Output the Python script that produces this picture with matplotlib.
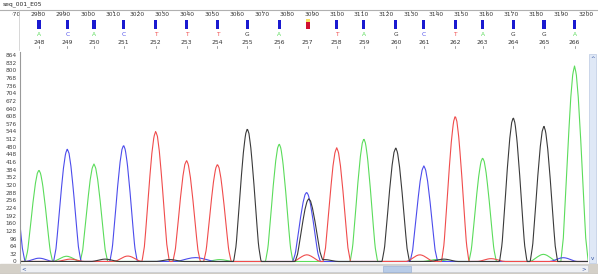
import matplotlib.pyplot as plt
import numpy as np
from matplotlib.patches import Rectangle

# peak centres (scan units) and heights, per channel
a_pos = [2980.4, 2991.5, 3002.5, 3053.0, 3076.9, 3110.9, 3140.0, 3158.6, 3183.0, 3195.5]
a_hgt = [383, 22, 408, 8, 493, 514, 8, 434, 30, 818]
c_pos = [2969.3, 2980.5, 2991.8, 3014.4, 3041.0, 3045.5, 3087.9, 3135.0, 3191.0]
c_hgt = [420, 14, 471, 487, 12, 12, 290, 400, 16]
g_pos = [3007.0, 3033.0, 3064.1, 3088.8, 3095.0, 3123.7, 3143.0, 3170.9, 3183.2]
g_hgt = [10, 8, 556, 263, 8, 476, 10, 603, 567]
t_pos = [2993.0, 3016.1, 3027.3, 3039.7, 3052.1, 3088.0, 3100.0, 3133.4, 3147.6, 3162.0]
t_hgt = [10, 23, 545, 423, 407, 28, 476, 28, 609, 12]

# base calls
call_pos = [2980.4, 2991.8, 3002.5, 3014.4, 3027.3, 3039.7, 3052.1, 3064.1, 3076.9, 3088.3,
            3100.0, 3110.9, 3123.7, 3135.0, 3147.6, 3158.6, 3170.9, 3183.2, 3195.5]
call_base = list("ACACTTTGA") + [""] + list("TAGCTAGGA")
call_num = list(range(248, 267))

ruler_ticks = list(range(2970, 3210, 10))
y_ticks = list(range(0, 865, 32))

# peak outline (offset in scans, fraction of height)
shape_off = [-5.5, -4.5, -3.5, -2.5, -1.5, -0.7, 0, 0.7, 1.5, 2.5, 3.5, 4.5, 5.5]
shape_frac = [0, 0.12, 0.36, 0.62, 0.84, 0.96, 1, 0.96, 0.84, 0.62, 0.36, 0.12, 0]

colors = {"A": "#5bdc5b", "C": "#4c4cec", "G": "#3a3a3a", "T": "#f04c4c"}

W, H = 598, 274
fig = plt.figure(figsize=(W / 100, H / 100), dpi=100)
fig.patch.set_facecolor("white")


def box(x0, y0, x1, y1):
    return [x0 / W, 1 - y1 / H, (x1 - x0) / W, (y1 - y0) / H]


xl = 2972.8
px_per_scan = 2.49

# main trace panel
ax = fig.add_axes(box(20, 52, 588, 264))
grid = np.arange(2960, 3210, 0.25)
for base, pos, hgt in [("A", a_pos, a_hgt), ("C", c_pos, c_hgt),
                       ("T", t_pos, t_hgt), ("G", g_pos, g_hgt)]:
    trace = np.zeros_like(grid)
    for p, h in zip(pos, hgt):
        trace += h * np.interp(grid - p, shape_off, shape_frac)
    ax.plot(grid, trace, color=colors[base], lw=0.8)
ax.set_xlim(xl, xl + 568 / px_per_scan)
ax.set_ylim(-10.5, 876.6)
ax.set_yticks(y_ticks)
ax.set_yticklabels([str(v) for v in y_ticks], fontsize=4.2, color="#444444")
ax.tick_params(axis="y", length=0, pad=2.5)
ax.set_xticks([])
for s in ["top", "right", "bottom"]:
    ax.spines[s].set_visible(False)
ax.spines["left"].set_color("#9a9a9a")
ax.spines["left"].set_linewidth(0.8)

# ruler with base calls
rx = fig.add_axes(box(19, 10, 595, 50))
rx.set_xlim(xl - 1 / px_per_scan, xl + 575 / px_per_scan)
rx.set_ylim(40, 0)
rx.axis("off")
for t in ruler_ticks:
    rx.text(t, 5, str(t), fontsize=4.3, ha="center", va="center", color="#333333")
    rx.plot([t, t], [0, 1.5], color="#777777", lw=0.5)
for p, b, n in zip(call_pos, call_base, call_num):
    if b:
        rx.bar(p, 9, bottom=10, width=1.3, color="#1a1ad0")
        rx.text(p, 25, b, fontsize=4.2, ha="center", va="center", color=colors[b])
    else:
        rx.bar(p, 7, bottom=12, width=1.6, color="#d01030")
        rx.bar(p, 3, bottom=9, width=1.6, color="#f8e060")
    rx.text(p, 33, str(n), fontsize=4.3, ha="center", va="center", color="#333333")
    rx.plot([p, p], [36, 38], color="#777777", lw=0.5)

# window chrome: title, borders, scroll bars
ov = fig.add_axes([0, 0, 1, 1])
ov.set_xlim(0, W)
ov.set_ylim(H, 0)
ov.axis("off")
ov.add_patch(Rectangle((0, 10), 11, 10, color="white"))  # cuts the first ruler label
ov.text(3, 4.5, "seq_001_E05", fontsize=4.3, va="center", color="#222222")
ov.plot([0, W], [9.5, 9.5], color="#b0b0b0", lw=0.8)
ov.plot([19, 19], [10, 50], color="#c8c8c8", lw=0.5)
ov.add_patch(Rectangle((0, 264), W, 10, color="#d4d0c8"))
ov.add_patch(Rectangle((20, 265), 568, 7, color="#eef0f4", ec="#c0c4cc", lw=0.4))
ov.add_patch(Rectangle((383, 265.5), 28, 6, color="#b8cce8", ec="#8ea8d0", lw=0.4))
ov.text(24, 268.5, "<", fontsize=4, ha="center", va="center", color="#3050a0")
ov.text(584, 268.5, ">", fontsize=4, ha="center", va="center", color="#3050a0")
ov.add_patch(Rectangle((589, 54), 7, 209, color="#dfe8f6", ec="#b0c0dc", lw=0.4))
ov.text(592.5, 58, "^", fontsize=4, ha="center", va="center", color="#3050a0")
ov.text(592.5, 259, "v", fontsize=4, ha="center", va="center", color="#3050a0")
ov.plot([0, W], [273.5, 273.5], color="#808080", lw=0.8)

fig.savefig("out.png", dpi=100)
